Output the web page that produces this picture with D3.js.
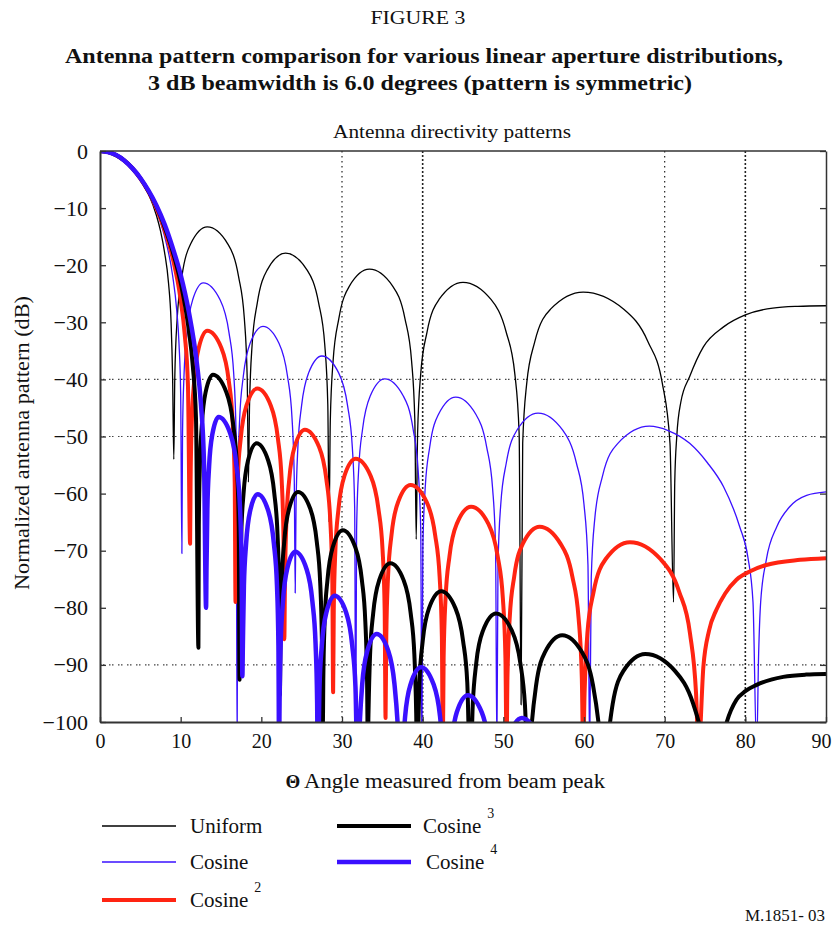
<!DOCTYPE html>
<html><head><meta charset="utf-8">
<script src="https://cdn.jsdelivr.net/npm/d3@7"></script>
<style>
html,body{margin:0;padding:0;background:#fff;}
text{font-family:"Liberation Serif","Times New Roman",serif;fill:#111;}
</style></head>
<body><svg id="chart" width="835" height="926"></svg>
<script>
// ---------- data (angle in degrees, normalized pattern in dB) ----------
const xTicks = [0,10,20,30,40,50,60,70,80,90];
const yTicks = [0,-10,-20,-30,-40,-50,-60,-70,-80,-90,-100];
const vGrid = [30,40,70,80];
const hGrid = [-40,-50,-90];

const uniform = [
[0,0],[1,-0.17],[2,-0.71],[3,-1.62],[4,-3.0],[5,-4.9],[6,-7.5],[7,-11.3],[7.5,-14.0],[8,-17.7],[8.5,-23.2],[8.8,-29.6],[9.0,-39.6],[9.15,-54],
[9.27,-39.8],[9.57,-29.3],[10.15,-22.0],[11.23,-16.3],[13.3,-13.3],[15.85,-16.3],[17.18,-22.0],[17.89,-29.3],[18.25,-39.8],[18.4,-58],
[18.54,-44.4],[18.86,-33.9],[19.5,-26.6],[20.7,-20.9],[23.0,-17.9],[25.7,-20.9],[27.1,-26.6],[27.86,-33.9],[28.24,-44.4],[28.4,-65],
[28.55,-47.2],[28.9,-36.7],[29.6,-29.4],[30.9,-23.7],[33.4,-20.7],[36.3,-23.7],[37.81,-29.4],[38.62,-36.7],[39.03,-47.2],[39.2,-68],
[39.37,-49.5],[39.76,-39],[40.54,-31.7],[42.03,-26],[45.0,-23],[48.47,-26],[50.35,-31.7],[51.42,-39],[51.96,-49.5],[52.2,-97],
[52.4,-51.2],[52.9,-40.7],[53.9,-33.4],[55.85,-27.7],[59.9,-24.7],[64.93,-27.7],[67.93,-33.4],[69.71,-40.7],[70.66,-51.2],[71.1,-79],
[71.25,-58],[71.5,-50],[72.0,-44],[73.1,-39.5],[74.8,-34.3],[77.3,-30.8],[80.0,-28.7],[83.4,-27.5],[86.5,-27.2],[90,-27.1]
];
const cosine = [
[0,0],[1,-0.18],[2,-0.73],[3,-1.64],[4,-3.0],[5,-4.85],[6,-7.28],[7,-10.5],[8,-14.9],[9,-21.8],[9.5,-27.7],[9.8,-33.9],[10.0,-42.5],[10.15,-70.5],
[10.23,-49.6],[10.42,-39.1],[10.79,-31.8],[11.48,-26.1],[12.8,-23.1],[14.9,-26.1],[15.99,-31.8],[16.58,-39.1],[16.87,-49.6],[17.0,-105],
[17.1,-57.2],[17.32,-46.7],[17.77,-39.4],[18.6,-33.7],[20.2,-30.7],[22.2,-33.7],[23.24,-39.4],[23.8,-46.7],[24.08,-57.2],[24.2,-77.4],
[24.3,-62.4],[24.53,-51.9],[24.99,-44.6],[25.85,-38.9],[27.5,-35.9],[29.6,-38.9],[30.69,-44.6],[31.28,-51.9],[31.57,-62.4],[31.7,-105],
[31.81,-66.4],[32.06,-55.9],[32.56,-48.6],[33.5,-42.9],[35.3,-39.9],[37.6,-42.9],[38.8,-48.6],[39.44,-55.9],[39.76,-66.4],[39.9,-105],
[40.02,-69.6],[40.31,-59.1],[40.88,-51.8],[41.97,-46.1],[44.1,-43.1],[46.59,-46.1],[47.93,-51.8],[48.67,-59.1],[49.04,-69.6],[49.2,-105],
[49.34,-72.4],[49.68,-61.9],[50.37,-54.6],[51.68,-48.9],[54.3,-45.9],[57.36,-48.9],[59.05,-54.6],[60.0,-61.9],[60.49,-72.4],[60.7,-105],
[60.9,-74.7],[61.35,-64.2],[62.3,-56.9],[64.2,-51.2],[68.1,-48.2],[70.5,-49.0],[73.1,-51.2],[75.3,-54.6],[77.3,-58.8],[79.3,-65.8],[80.3,-71],[80.95,-79],[81.4,-105],
[81.65,-88],[81.9,-79],[82.6,-71.6],[83.9,-65.8],[85.5,-62.3],[87.6,-60.3],[90,-59.7]
];
const cosine2 = [
[0,0],[1,-0.18],[2,-0.73],[3,-1.66],[4,-3.0],[5,-4.84],[6,-7.1],[7,-10.0],[8,-13.8],[9,-18.7],[10,-26.1],[10.5,-32.1],[10.9,-40.9],[11.17,-68.8],
[11.23,-58],[11.38,-47.5],[11.68,-40.2],[12.24,-34.5],[13.3,-31.5],[15.05,-34.5],[15.96,-40.2],[16.45,-47.5],[16.7,-58],[16.8,-79],
[16.88,-68.1],[17.07,-57.6],[17.45,-50.3],[18.15,-44.6],[19.5,-41.6],[21.18,-44.6],[22.05,-50.3],[22.52,-57.6],[22.75,-68.1],[22.85,-85.5],
[22.93,-75.3],[23.11,-64.8],[23.46,-57.5],[24.13,-51.8],[25.4,-48.8],[27.15,-51.8],[28.06,-57.5],[28.55,-64.8],[28.8,-75.3],[28.9,-94.8],
[28.98,-80.4],[29.18,-69.9],[29.57,-62.6],[30.3,-56.9],[31.7,-53.9],[33.55,-56.9],[34.51,-62.6],[35.03,-69.9],[35.29,-80.4],[35.4,-99.3],
[35.49,-85],[35.71,-74.5],[36.14,-67.2],[36.95,-61.5],[38.5,-58.5],[40.5,-61.5],[41.54,-67.2],[42.1,-74.5],[42.38,-85],[42.5,-105],
[42.6,-88.8],[42.84,-78.3],[43.32,-71],[44.23,-65.3],[46.0,-62.3],[48.15,-65.3],[49.3,-71],[49.94,-78.3],[50.26,-88.8],[50.4,-105],
[50.51,-92.3],[50.79,-81.8],[51.35,-74.5],[52.41,-68.8],[54.5,-65.8],[57.1,-68.8],[58.55,-74.5],[59.33,-81.8],[59.73,-92.3],[59.9,-105],
[60.07,-95],[60.42,-84.5],[61.19,-77.2],[62.67,-71.5],[65.7,-68.5],[69.5,-71.5],[71.8,-77.2],[73.14,-84.5],[73.89,-95],[74.2,-105],
[74.8,-90.3],[75.5,-84],[76.4,-80.4],[77.5,-77.5],[78.9,-75.1],[80.6,-73.6],[82.6,-72.5],[86.8,-71.6],[90,-71.3]
];
const cosine3 = [
[0,0],[1,-0.18],[2,-0.72],[3,-1.65],[4,-3.0],[5,-4.76],[6,-7.04],[7,-9.72],[8,-13.26],[9,-17.55],[10,-23.1],[11,-31.3],[11.5,-37.6],[11.9,-46.8],[12.2,-87],
[12.25,-65.7],[12.38,-55.2],[12.63,-47.9],[13.1,-42.2],[14.0,-39.2],[15.65,-42.2],[16.51,-47.9],[16.97,-55.2],[17.2,-65.7],[17.3,-92.6],
[17.36,-77.7],[17.51,-67.2],[17.8,-59.9],[18.35,-54.2],[19.4,-51.2],[20.85,-54.2],[21.6,-59.9],[22.01,-67.2],[22.21,-77.7],[22.3,-95.3],
[22.37,-86.2],[22.53,-75.7],[22.84,-68.4],[23.43,-62.7],[24.55,-59.7],[26.08,-62.7],[26.87,-68.4],[27.3,-75.7],[27.51,-86.2],[27.6,-105],
[27.68,-92.9],[27.85,-82.4],[28.2,-75.1],[28.85,-69.4],[30.1,-66.4],[31.65,-69.4],[32.46,-75.1],[32.89,-82.4],[33.11,-92.9],[33.2,-105],
[33.28,-98.7],[33.48,-88.2],[33.87,-80.9],[34.6,-75.2],[36.0,-72.2],[37.65,-75.2],[38.51,-80.9],[38.97,-88.2],[39.2,-98.7],[39.3,-108],
[39.6,-93.1],[40.01,-85.8],[40.78,-80.1],[42.3,-77.1],[44.07,-80.1],[45.01,-85.8],[45.53,-93.1],[45.9,-110],
[46.21,-97],[46.64,-89.7],[47.48,-84],[49.1,-81],[51.06,-84],[52.11,-89.7],[52.68,-97],[53.1,-110],
[53.5,-100.8],[54.07,-93.5],[55.15,-87.8],[57.3,-84.8],[59.76,-87.8],[61.11,-93.5],[61.85,-100.8],[62.4,-110],
[62.87,-104.1],[63.56,-96.8],[64.87,-91.1],[67.6,-88.1],[71.3,-91.1],[73.53,-96.8],[74.86,-104.1],[75.9,-115],
[77.0,-104],[77.7,-100],[78.9,-96.1],[80.0,-94.6],[81.4,-93.5],[84.7,-92.1],[87.5,-91.7],[90,-91.6]
];
const cosine4 = [
[0,0],[1,-0.18],[2,-0.72],[3,-1.65],[4,-3.0],[5,-4.72],[6,-6.91],[7,-9.53],[8,-12.8],[9,-16.9],[10,-21.7],[11,-28.1],[12,-37.1],[12.5,-44.1],[12.9,-55],[13.15,-80],
[13.2,-73.1],[13.31,-62.6],[13.52,-55.3],[13.93,-49.6],[14.7,-46.6],[16.18,-49.6],[16.94,-55.3],[17.36,-62.6],[17.56,-73.1],[17.65,-92],
[17.71,-86.6],[17.84,-76.1],[18.11,-68.8],[18.6,-63.1],[19.55,-60.1],[20.88,-63.1],[21.56,-68.8],[21.94,-76.1],[22.12,-86.6],[22.2,-105],
[22.26,-96.7],[22.4,-86.2],[22.68,-78.9],[23.2,-73.2],[24.2,-70.2],[25.6,-73.2],[26.33,-78.9],[26.72,-86.2],[26.92,-96.7],[27.0,-110],
[27.21,-93.9],[27.5,-86.6],[28.05,-80.9],[29.1,-77.9],[30.53,-80.9],[31.27,-86.6],[31.67,-93.9],[31.95,-110],
[32.19,-100.6],[32.51,-93.3],[33.13,-87.6],[34.3,-84.6],[35.75,-87.6],[36.5,-93.3],[36.91,-100.6],[37.2,-110],
[37.46,-106.4],[37.82,-99.1],[38.5,-93.4],[39.8,-90.4],[41.35,-93.4],[42.16,-99.1],[42.59,-106.4],[42.9,-115],
[43.53,-104],[44.23,-98.3],[45.6,-95.3],[47.33,-98.3],[48.25,-104],[49.1,-115],
[50.0,-110],[50.7,-102.6],[52.3,-99.3],[54.27,-102.6],[55.2,-110],[56.3,-120]
];

const seriesNames = ["Uniform","Cosine","Cosine","Cosine","Cosine"];
const seriesPowers = ["","","2","3","4"];
const seriesData = [uniform, cosine, cosine2, cosine3, cosine4];
const seriesColors = ["#000000","#3a10ff","#ff2412","#000000","#3a10ff"];
const seriesWidths = [1.3, 1.3, 4, 4, 4.5];

// ---------- drawing ----------
const svg = d3.select("#chart");
const x = d3.scaleLinear().domain([0,90]).range([100,826]);
const y = d3.scaleLinear().domain([-100,0]).range([722,151]);

svg.append("defs").append("clipPath").attr("id","plotclip")
  .append("rect").attr("x",100).attr("y",151).attr("width",726).attr("height",571);

// titles
svg.append("text").attr("x",418).attr("y",24).attr("text-anchor","middle")
  .attr("font-size",19).attr("textLength",95).attr("lengthAdjust","spacingAndGlyphs").text("FIGURE 3");
svg.append("text").attr("x",424).attr("y",63).attr("text-anchor","middle")
  .attr("font-size",20).attr("font-weight","bold").attr("textLength",718).attr("lengthAdjust","spacingAndGlyphs")
  .text("Antenna pattern comparison for various linear aperture distributions,");
svg.append("text").attr("x",420).attr("y",90).attr("text-anchor","middle")
  .attr("font-size",20).attr("font-weight","bold").attr("textLength",544).attr("lengthAdjust","spacingAndGlyphs")
  .text("3 dB beamwidth is 6.0 degrees (pattern is symmetric)");
svg.append("text").attr("x",452).attr("y",138).attr("text-anchor","middle")
  .attr("font-size",18).attr("textLength",238).attr("lengthAdjust","spacingAndGlyphs")
  .text("Antenna directivity patterns");

// grid
const grid = svg.append("g");
grid.selectAll("line.v").data(vGrid).join("line")
  .attr("x1",d=>x(d)).attr("x2",d=>x(d)).attr("y1",y(0)).attr("y2",y(-100))
  .attr("stroke","#222").attr("stroke-width",d=>d%40===0?1.6:1.2)
  .attr("stroke-dasharray",d=>d%40===0?"2,2":"1.5,3.5");
grid.selectAll("line.h").data(hGrid).join("line")
  .attr("x1",x(0)).attr("x2",x(90)).attr("y1",d=>y(d)).attr("y2",d=>y(d))
  .attr("stroke","#444").attr("stroke-width",1.1).attr("stroke-dasharray","1.5,1.5,1.5,4.5");

// curves
const line = d3.line().x(d=>x(d[0])).y(d=>y(d[1])).curve(d3.curveMonotoneX);
const curves = svg.append("g").attr("clip-path","url(#plotclip)");
seriesData.forEach((s,i)=>{
  curves.append("path").datum(s).attr("d",line).attr("fill","none")
    .attr("stroke",seriesColors[i]).attr("stroke-width",seriesWidths[i])
    .attr("stroke-linejoin","round");
});

// axes
const axisStyle = g => { g.selectAll("path.domain").attr("stroke","#333").attr("stroke-width",2);
  g.selectAll(".tick line").attr("stroke","#333").attr("stroke-width",1.3);
  g.selectAll(".tick text").attr("font-family","Liberation Serif, Times New Roman, serif").attr("fill","#111"); };
svg.append("g").attr("transform","translate(100,0)")
  .call(d3.axisLeft(y).tickValues(yTicks).tickSizeInner(-6).tickSizeOuter(0).tickPadding(12))
  .call(axisStyle).call(g=>g.selectAll(".tick text").attr("font-size",22));
svg.append("g").attr("transform","translate(0,722)")
  .call(d3.axisBottom(x).tickValues(xTicks).tickSizeInner(-5).tickSizeOuter(0).tickPadding(12))
  .call(axisStyle).call(g=>g.selectAll(".tick text").attr("font-size",20)
     .attr("dx",d=>d===90?-5:0));
svg.append("g").attr("transform","translate(826,0)")
  .call(d3.axisRight(y).tickValues(yTicks).tickSizeInner(-6).tickSizeOuter(0).tickFormat(""))
  .call(axisStyle).call(g=>g.select("path.domain").attr("stroke-width",1.5));
svg.append("line").attr("x1",100).attr("x2",826).attr("y1",151).attr("y2",151)
  .attr("stroke","#333").attr("stroke-width",1.5);

// axis titles
svg.append("text").attr("x",293).attr("y",788).attr("text-anchor","middle")
  .attr("font-weight","bold").attr("font-family","DejaVu Sans, sans-serif").attr("font-size",19).text("Θ");
svg.append("text").attr("x",304).attr("y",788).attr("font-size",20)
  .attr("textLength",301).attr("lengthAdjust","spacingAndGlyphs").text("Angle measured from beam peak");
svg.append("text").attr("transform","translate(29,443) rotate(-90)").attr("text-anchor","middle")
  .attr("font-size",20).attr("textLength",294).attr("lengthAdjust","spacingAndGlyphs")
  .text("Normalized antenna pattern (dB)");

// legend
const legendX = [100,100,100,335,335];
const legendY = [826,862,900,826,862];
const legendTextX = [190,190,190,423,426];
const leg = svg.append("g");
seriesData.forEach((s,i)=>{
  leg.append("line").attr("x1",legendX[i]+2).attr("x2",legendX[i]+76).attr("y1",legendY[i]).attr("y2",legendY[i])
    .attr("stroke",seriesColors[i]).attr("stroke-width",seriesWidths[i]);
  const t = leg.append("text").attr("x",legendTextX[i]).attr("y",legendY[i]+7).attr("font-size",21).text(seriesNames[i]);
  if (seriesPowers[i]) t.append("tspan").attr("dx",6).attr("dy",-15).attr("font-size",14).text(seriesPowers[i]);
});

svg.append("text").attr("x",825).attr("y",921).attr("text-anchor","end").attr("font-size",16)
  .attr("textLength",80).attr("lengthAdjust","spacingAndGlyphs").text("M.1851- 03");
</script></body></html>
